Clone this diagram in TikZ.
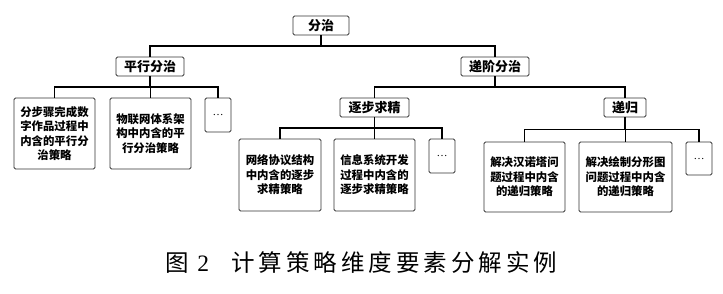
\documentclass[tikz,border=0pt]{standalone}
\usepackage{fontspec}
\setmainfont{Liberation Serif}
\newfontfamily\cjk{Noto Sans CJK SC}
\usetikzlibrary{calc}
\newcommand\gap{\hspace{4pt}}
\tikzset{
  box/.style={draw=black!80, rounded corners=1.5pt, line width=0.9pt, inner sep=0pt,
    align=center, minimum height=19pt, font=\cjk\bfseries\fontsize{13}{15}\selectfont},
  leaf/.style={box, minimum width=81pt, minimum height=71pt,
    font=\cjk\bfseries\fontsize{11.4}{14.5}\selectfont},
  more/.style={box, minimum width=26pt, minimum height=34pt, font=\fontsize{11}{13}\selectfont},
  tree/.style={to path={|- ($(\tikztostart)!.5!(\tikztotarget)$) -| (\tikztotarget)}}
}

\begin{document}
\begin{tikzpicture}[x=1pt, y=-1pt]
  \useasboundingbox (0,0) rectangle (723,293);
  % levels 1 and 2
  \node[box, minimum width=56pt] (fz) at (321,25.5) {分治};
  \node[box, minimum width=68pt] (pxfz) at (150,66.5) {平行分治};
  \node[box, minimum width=68pt] (djfz) at (495,66.5) {递阶分治};
  \node[box, minimum width=69pt] (zbqj) at (374.5,107.5) {逐步求精};
  \node[box, minimum width=42pt] (dg) at (625,107.5) {递归};
  % leaves
  \node[leaf] (px1) at (54.5,133.5) {分步骤完成数\\字作品过程中\\内含的平行分\\治策略};
  \node[leaf] (px2) at (150.5,133.5) {物联网体系架\\构中内含的平\\行分治策略};
  \node[more] (px3) at (218,115) {\textellipsis};
  \node[leaf, minimum width=82pt, minimum height=72pt] (zb1) at (280,175) {网络协议结构\\中内含的逐步\\求精策略};
  \node[leaf, minimum height=72pt] (zb2) at (374.5,175) {信息系统开发\\过程中内含的\\逐步求精策略};
  \node[more] (zb3) at (442,156) {\textellipsis};
  \node[leaf, minimum height=70pt] (dg1) at (524.5,177) {解决汉诺塔问\\题过程中内含\\的递归策略};
  \node[leaf, minimum width=93pt, minimum height=70pt] (dg2) at (625.5,177) {解决绘制分形图\\问题过程中内含\\的递归策略};
  \node[more, minimum height=33pt] (dg3) at (699,158.5) {\textellipsis};
  % connectors
  \foreach \p/\c in {fz/pxfz, fz/djfz, djfz/zbqj, djfz/dg,
                     pxfz/px1, pxfz/px2, pxfz/px3,
                     zbqj/zb1, zbqj/zb2, zbqj/zb3,
                     dg/dg1, dg/dg2, dg/dg3}
    \draw[line width=1.1pt] (\p.south) to[tree] (\c.north);
  % caption
  \node (cap) at (361.5,263) {\cjk\fontsize{23.5}{25}\selectfont
    图\hspace{8pt}{\rmfamily 2}\hspace{22pt}计\gap 算\gap 策\gap 略\gap 维\gap 度\gap
    要\gap 素\gap 分\gap 解\gap 实\gap 例};
\end{tikzpicture}
\end{document}
